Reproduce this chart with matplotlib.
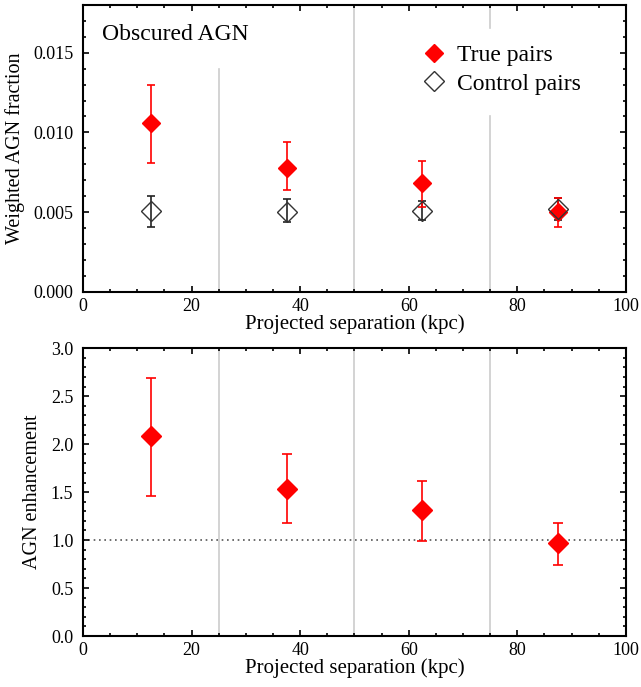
import matplotlib
matplotlib.use("Agg")
import matplotlib.pyplot as plt
from matplotlib.ticker import MultipleLocator, FormatStrFormatter

plt.rcParams['font.family'] = ['Liberation Serif', 'DejaVu Serif']

# Data
sep = [12.5, 37.5, 62.5, 87.5]
true_frac = [0.0106, 0.0078, 0.0068, 0.0050]
true_hi = [0.0130, 0.0094, 0.0082, 0.0059]
true_lo = [0.0081, 0.0064, 0.0053, 0.0041]
ctrl_frac = [0.0051, 0.0050, 0.0051, 0.0052]
ctrl_hi = [0.0060, 0.0058, 0.0057, 0.0059]
ctrl_lo = [0.0041, 0.0044, 0.0045, 0.0045]
enh = [2.08, 1.53, 1.31, 0.97]
enh_hi = [2.69, 1.90, 1.62, 1.18]
enh_lo = [1.46, 1.18, 0.99, 0.74]
bin_edges = [25, 50, 75]

fig = plt.figure(figsize=(6.41, 6.87), dpi=100)
ax1 = fig.add_axes([0.1295, 0.575, 0.847, 0.418])
ax2 = fig.add_axes([0.1295, 0.0742, 0.847, 0.419])

def err(v, hi, lo):
    return [[a - b for a, b in zip(v, lo)], [b - a for a, b in zip(v, hi)]]

grey = '#cccccc'
# top panel vertical lines (interrupted by the label and legend)
ax1.axvline(bin_edges[0], ymin=0, ymax=0.777, color=grey, lw=1.2, zorder=0)
ax1.axvline(bin_edges[1], color=grey, lw=1.2, zorder=0)
ax1.axvline(bin_edges[2], ymin=0, ymax=0.613, color=grey, lw=1.2, zorder=0)
ax1.axvline(bin_edges[2], ymin=0.92, ymax=1, color=grey, lw=1.2, zorder=0)

ax1.errorbar(sep, ctrl_frac, yerr=err(ctrl_frac, ctrl_hi, ctrl_lo), fmt='none',
             ecolor='#222222', elinewidth=1.2, capsize=3, capthick=1.2, zorder=2)
ax1.errorbar(sep, true_frac, yerr=err(true_frac, true_hi, true_lo), fmt='none',
             ecolor='red', elinewidth=1.2, capsize=3, capthick=1.2, zorder=3)
ax1.plot(sep, true_frac, 'D', color='red', ms=9, mec='red', zorder=4, label='True pairs')
ax1.plot(sep, ctrl_frac, 'D', mfc='none', mec='#333333', mew=1.0, ms=10, zorder=5,
         label='Control pairs')

ax1.set_xlim(0, 100)
ax1.set_ylim(0, 0.018)
ax1.yaxis.set_major_locator(MultipleLocator(0.005))
ax1.yaxis.set_minor_locator(MultipleLocator(0.001))
ax1.yaxis.set_major_formatter(FormatStrFormatter('%.3f'))
ax1.set_ylabel('Weighted AGN fraction', fontsize=14.5, labelpad=6)
ax1.set_xlabel('Projected separation (kpc)', fontsize=15, labelpad=0)
ax1.text(0.035, 0.895, 'Obscured AGN', transform=ax1.transAxes, fontsize=17,
         ha='left', va='center')
ax1.legend(loc='upper right', bbox_to_anchor=(0.935, 0.895), frameon=False,
           fontsize=17, handletextpad=0.4, labelspacing=0.3, borderaxespad=0,
           handlelength=1.2)

# bottom panel
for e in bin_edges:
    ax2.axvline(e, color=grey, lw=1.2, zorder=0)
ax2.axhline(1.0, color='#555555', lw=1.2, ls=(0, (1, 2.2)), zorder=1)
ax2.errorbar(sep, enh, yerr=err(enh, enh_hi, enh_lo), fmt='none',
             ecolor='red', elinewidth=1.2, capsize=3.3, capthick=1.2, zorder=3)
ax2.plot(sep, enh, 'D', color='red', ms=10, zorder=4)
ax2.set_xlim(0, 100)
ax2.set_ylim(0, 3.0)
ax2.yaxis.set_major_locator(MultipleLocator(0.5))
ax2.yaxis.set_minor_locator(MultipleLocator(0.1))
ax2.yaxis.set_major_formatter(FormatStrFormatter('%.1f'))
ax2.set_ylabel('AGN enhancement', fontsize=14.5, labelpad=6)
ax2.set_xlabel('Projected separation (kpc)', fontsize=15, labelpad=0)

for ax in (ax1, ax2):
    ax.xaxis.set_major_locator(MultipleLocator(20))
    ax.xaxis.set_minor_locator(MultipleLocator(5))
    ax.tick_params(which='both', direction='in', top=True, right=True, labelsize=13,
                   width=1.2, color='black')
    ax.tick_params(which='major', length=4.5)
    ax.tick_params(which='minor', length=2.5)
    ax.tick_params(axis='y', which='major', pad=7)
    ax.tick_params(axis='x', which='major', pad=4)
    for s in ax.spines.values():
        s.set_linewidth(1.5)

fig.savefig('out.png', dpi=100)
